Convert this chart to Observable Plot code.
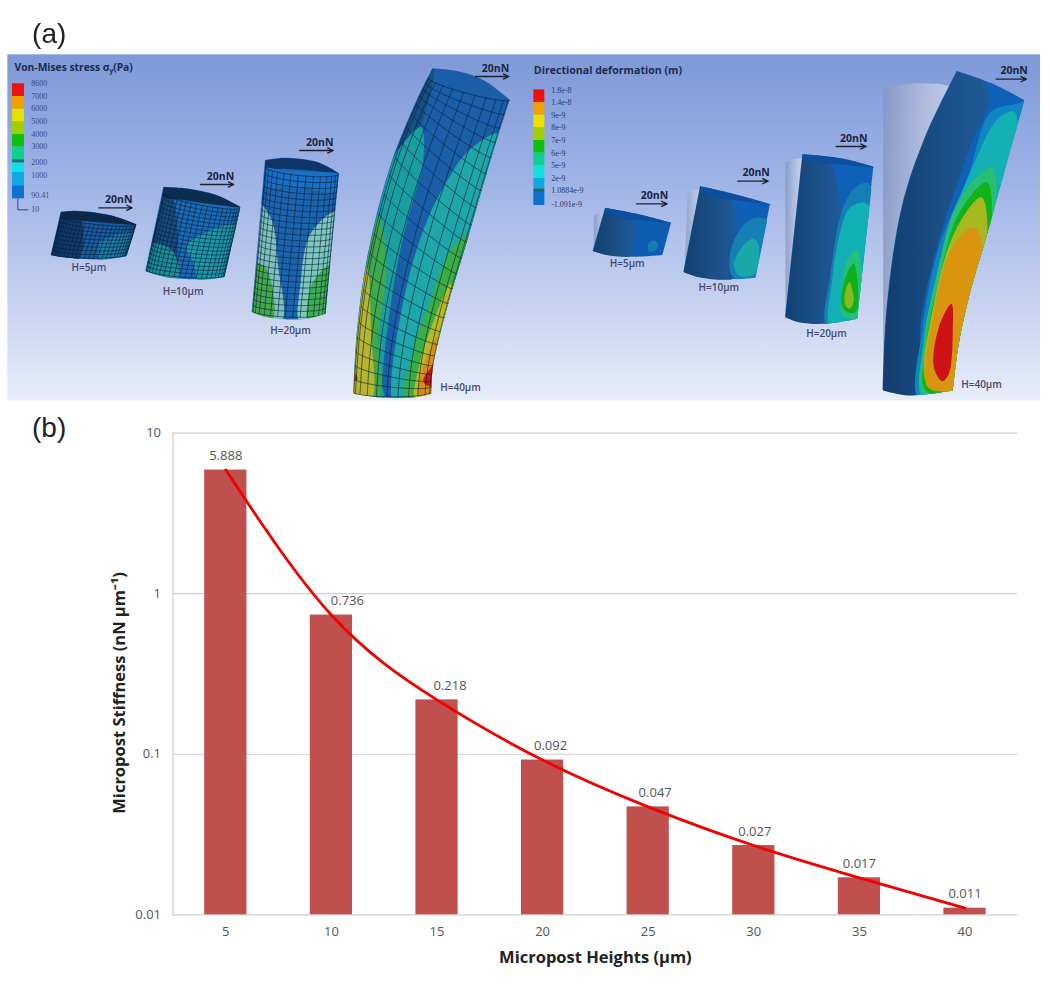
<!DOCTYPE html>
<html><head><meta charset="utf-8">
<script src="https://cdn.jsdelivr.net/npm/d3@7"></script>
<script src="https://cdn.jsdelivr.net/npm/@observablehq/plot@0.6"></script>
<style>
html,body{margin:0;padding:0;background:#fff;width:1050px;height:1001px;overflow:hidden}
svg{display:block}
#top svg{filter:blur(.35px)}
</style></head><body>
<div id="top"></div><div id="bottom"></div>
<script>
// ---- panel (b) values
const heights = [5,10,15,20,25,30,35,40];
const stiffness = [5.888,0.736,0.218,0.092,0.047,0.027,0.017,0.011];
const stiffnessLabels = ["5.888","0.736","0.218","0.092","0.047","0.027","0.017","0.011"];
const yTicks = [0.01,0.1,1,10];
const yTickLabels = ["0.01","0.1","1","10"];

// ---- panel (a) legends
const stressLabels = ["8600","7000","6000","5000","4000","3000","2000","1000","90.41","10"];
const deformationLabels = ["1.8e-8","1.4e-8","9e-9","8e-9","7e-9","6e-9","5e-9","2e-9","1.0884e-9","-1.091e-9"];
const postLabels = ["H=5µm","H=10µm","H=20µm","H=40µm"];

// ---- panel (a) illustration outlines, in picture units (3 per pixel)
const stressOutlines = [
 [[182,635],[230,632],[330,645],[408,672],[378,768],[300,778],[220,774],[152,765]],
 [[490,560],[560,565],[650,585],[720,620],[672,830],[600,838],[500,830],[436,812]],
 [[795,480],[850,473],[950,485],[1015,518],[975,940],[900,958],[800,950],[755,935]],
 [[1297,205],[1380,215],[1450,240],[1528,298],[1470,480],[1400,720],[1340,920],[1297,1100],[1292,1180],[1230,1192],[1130,1190],[1060,1180],[1070,1000],[1100,780],[1170,500],[1250,300]]
];
const stressCorners = [[0,3,4,7],[0,3,4,7],[0,3,4,7],[0,3,8,11]];
const stressBase = ["#1a5c9e","#1b6ab4","#1b65ae","#1a5ea8"];
const stressRegions = [
 [["#123a6a",[[150,620],[240,650],[225,790],[140,775]]],
  ["#1e7ca8",[[300,725],[420,700],[390,790],[300,790]]],
  ["#0c2748",[[170,630],[230,630],[330,643],[420,672],[330,668],[240,660],[180,652]]]],
 [["#174c80",[[480,550],[520,600],[510,840],[420,820]]],
  ["#1d9aa8",[[560,735],[712,675],[690,850],[600,850],[580,790]]],
  ["#1c8f9a",[[445,730],[515,750],[530,850],[420,830]]],
  ["#0d2c52",[[480,550],[560,562],[650,582],[730,620],[640,612],[560,600],[485,585]]]],
 [["#7fc0bd",[[770,605],[812,655],[832,790],[842,965],[745,950]]],
  ["#44a848",[[755,790],[795,800],[815,960],[745,945]]],
  ["#7fc6bd",[[1005,635],[985,950],[900,970],[900,850],[930,700]]],
  ["#3fb050",[[995,790],[985,950],[925,965],[935,850]]],
  ["#0e3566",[[785,480],[850,470],[950,482],[1025,518],[930,510],[850,505],[790,505]]],
  ["#1a70c4",[[790,505],[850,510],[930,515],[1020,525],[1008,575],[900,560],[785,555]]]],
 [["#174f80",[[1300,200],[1262,370],[1210,440],[1150,480],[1240,280]]],
  ["#1b9ea0",[[1262,380],[1268,480],[1215,680],[1180,850],[1145,1150],[1150,1200],[1040,1190],[1060,1000],[1090,780],[1150,520]]],
  ["#3fa84a",[[1135,650],[1158,800],[1135,1000],[1130,1200],[1040,1190],[1060,1000],[1090,780]]],
  ["#b7b52c",[[1100,800],[1112,1000],[1110,1200],[1040,1190],[1060,1000]]],
  ["#1fa6a8",[[1490,400],[1400,455],[1340,540],[1280,660],[1220,850],[1172,1150],[1180,1200],[1310,1190],[1320,1100],[1360,920],[1420,720],[1490,480]]],
  ["#3aae45",[[1410,700],[1350,750],[1290,900],[1235,1060],[1215,1200],[1310,1190],[1320,1100],[1360,920]]],
  ["#b9b825",[[1350,850],[1300,960],[1255,1100],[1245,1200],[1310,1190],[1320,1100]]],
  ["#d88e16",[[1310,1010],[1265,1110],[1255,1200],[1310,1190]]],
  ["#cc1a12",[[1310,1085],[1268,1140],[1280,1155],[1310,1155]]],
  ["#c22a1a",[[1050,1105],[1072,1135],[1050,1145]]]]
];
const deformationOutlines = [
 [[240,503],[330,520],[438,548],[412,645],[330,650],[250,645],[203,632]],
 [[525,438],[620,460],[735,492],[690,712],[600,718],[520,710],[475,695]],
 [[832,342],[950,355],[1045,380],[995,835],[900,850],[820,845],[780,830]],
 [[1295,93],[1400,130],[1497,180],[1440,380],[1385,580],[1330,770],[1298,920],[1282,1050],[1150,1065],[1073,1050],[1085,800],[1130,500],[1200,290]]
];
const deformationCorners = [[0,2,3,6],[0,2,3,6],[0,2,3,6],[0,2,7,9]];
const deformationBase = ["#0f5cb4","#0f5fb6","#0f60b8","#0f60b8"];
const deformationGhosts = [
 [[205,525],[240,512],[250,520],[245,640],[205,630]],
 [[487,460],[500,450],[528,445],[530,700],[477,690]],
 [[780,365],[800,356],[832,352],[830,830],[780,835]],
 [[1073,145],[1100,136],[1170,128],[1240,130],[1290,140],[1200,290],[1130,500],[1090,800],[1073,1050]]
];
const deformationRegions = [
 [["url(#side)",[[240,490],[320,530],[305,660],[190,640]]],
  ["#0d4f9c",[[230,500],[330,518],[448,548],[350,540],[260,527]]],
  ["#167eae",[[368,610],[385,600],[398,612],[388,630],[370,632]]]],
 [["url(#side)",[[515,425],[612,470],[608,730],[460,700]]],
  ["#0d4f9c",[[515,435],[620,458],[745,492],[640,480],[540,462]]],
  ["#1480b4",[[680,535],[725,540],[702,720],[625,712],[612,660],[630,590]]],
  ["#18a8a8",[[682,595],[698,610],[688,700],[640,705],[625,670],[650,620]]]],
 [["url(#side)",[[820,330],[920,378],[900,860],[765,835]]],
  ["#0d4f9c",[[820,340],[950,352],[1055,380],[950,372],[845,360]]],
  ["#147fb5",[[1030,430],[990,440],[950,510],[915,700],[905,860],[1010,850]]],
  ["#10b0b4",[[1025,490],[975,500],[945,570],[920,720],[915,860],[1010,850]]],
  ["#22c07c",[[995,630],[965,660],[945,780],[950,825],[1000,830]]],
  ["#10ae18",[[985,670],[960,710],[948,790],[965,815],[992,812]]],
  ["#8ab820",[[972,725],[958,760],[960,795],[972,805],[985,780]]]],
 [["url(#side)",[[1290,80],[1392,150],[1330,330],[1240,600],[1185,850],[1180,1075],[1050,1060],[1070,800],[1115,500],[1185,290]]],
  ["#1086c0",[[1475,190],[1395,215],[1330,400],[1240,620],[1190,870],[1180,1075],[1300,1060],[1320,900],[1370,760],[1450,450],[1510,180]]],
  ["#15b0b4",[[1468,215],[1420,232],[1350,360],[1260,600],[1205,860],[1190,1070],[1300,1060],[1320,900],[1370,760],[1450,450]]],
  ["#28bf74",[[1400,380],[1300,480],[1230,720],[1195,900],[1195,1060],[1300,1060],[1320,900],[1400,600]]],
  ["#10b418",[[1385,425],[1300,520],[1235,740],[1200,920],[1200,1050],[1300,1058],[1320,900],[1395,600]]],
  ["#a8b820",[[1368,470],[1290,570],[1225,790],[1205,1030],[1295,1048],[1310,900],[1385,600]]],
  ["#d99410",[[1345,560],[1280,620],[1225,820],[1207,1040],[1285,1042],[1300,900],[1370,610]]],
  ["#cc1212",[[1278,790],[1240,860],[1225,980],[1250,1022],[1270,1000],[1282,870]]]]
];
const stressSwatches = [[250,288,"#ee1010"],[288,326,"#f0a000"],[326,364,"#e8e000"],[364,402,"#a0d000"],[402,440,"#10c010"],[440,478,"#10d090"],[478,488,"#107878"],[488,516,"#10e0e0"],[516,556,"#10a8e0"],[556,595,"#1070d0"]];
const deformationSwatches = [[148,186,"#ee1010"],[186,224,"#f0a000"],[224,262,"#e8e000"],[262,300,"#a0d000"],[300,338,"#10c010"],[338,376,"#10d090"],[376,414,"#10e0e0"],[414,445,"#10a8e0"],[445,456,"#107078"],[456,495,"#1070d0"]];

const W = 3150, H = 1230, RX = 1575, RY = 120;   // right half sits at this offset
const shift = pts => pts.map(([x,y]) => [x+RX, y+RY]);
const sans = "'Open Sans', sans-serif";

// a mesh drawn over a post outline: rows across, columns along
function meshLines(L, R, nRows, nCols, sag){
  const bs = e => { const fx=d3.interpolateBasis(e.map(d=>d[0])), fy=d3.interpolateBasis(e.map(d=>d[1])); return t=>[fx(t),fy(t)]; };
  const l=bs(L), r=bs(R);
  const pt = (t,u) => { const a=l(t), b=r(t), c=(1-Math.cos(Math.PI*u))/2; return [a[0]+(b[0]-a[0])*c, a[1]+(b[1]-a[1])*c+sag*Math.sin(Math.PI*u)]; };
  const out=[];
  for(let q=0;q<=nRows;q++) out.push(d3.range(0,21).map(k=>pt(q/nRows,k/20)));
  for(let c=0;c<=nCols;c++) out.push(d3.range(0,nRows+1).map(k=>pt(k/nRows,c/nCols)));
  return out;
}
const meshes = [
 meshLines([[182,650],[152,760]],[[408,672],[378,762]],9,26,12),
 meshLines([[490,580],[436,808]],[[720,622],[672,825]],18,22,14),
 meshLines([[795,500],[755,930]],[[1015,520],[975,938]],24,15,16),
 meshLines([[1285,235],[1250,300],[1170,500],[1100,780],[1070,1000],[1060,1175]],[[1528,298],[1470,480],[1400,720],[1340,920],[1297,1100],[1292,1175]],22,11,14)
];

// a post outline: smooth between corners, sharp at corners
const piece = d3.line().x(d=>d[0]/3).y(d=>d[1]/3).curve(d3.curveCatmullRom);
function outlinePath(pts, corners){
  const n = pts.length; let out = "";
  corners.forEach((c,i)=>{
    const e = corners[(i+1)%corners.length], seg=[];
    for(let k=c;;k=(k+1)%n){ seg.push(pts[k]); if(k===e) break; }
    const d = piece(seg);
    out += i===0 ? d : "L"+d.slice(1);
  });
  return out+"Z";
}
const clipRender = id => (index, scales, values, dims, ctx, next) => {
  const g = next(index, scales, values, dims, ctx);
  g.setAttribute("clip-path", `url(#${id})`);
  return g;
};
const poly = (pts, fill, id) => Plot.line(pts, {x:d=>d[0], y:d=>d[1], fill, stroke:"none", curve:"catmull-rom-closed", render:clipRender(id)});
const base = (fill, id) => Plot.rect([0],{x1:0,x2:W,y1:0,y2:H,fill,render:clipRender(id)});
const defs = () => {
  const s = d3.create("svg:g");
  const d = s.append("defs");
  const g = d.append("linearGradient").attr("id","sky").attr("x1",0).attr("y1",0).attr("x2",0).attr("y2",1);
  [[0,"#7e99d8"],[.35,"#9db2e6"],[.7,"#c4d0ef"],[1,"#e8edf9"]].forEach(([o,c])=>g.append("stop").attr("offset",o).attr("stop-color",c));
  const h = d.append("linearGradient").attr("id","side").attr("x1",0).attr("y1",0).attr("x2",1).attr("y2",0);
  [[0,"#0f3a68"],[.6,"#1b4f86"],[1,"#1d5a99"]].forEach(([o,c])=>h.append("stop").attr("offset",o).attr("stop-color",c));
  const k = d.append("linearGradient").attr("id","ghost").attr("x1",0).attr("y1",0).attr("x2",1).attr("y2",0);
  [[0,"#8494be"],[.5,"#b4bfdc"],[1,"#d8dce8"]].forEach(([o,c])=>k.append("stop").attr("offset",o).attr("stop-color",c));
  stressOutlines.forEach((o,i)=>d.append("clipPath").attr("id","cs"+i).append("path").attr("d",outlinePath(o,stressCorners[i])));
  deformationOutlines.forEach((o,i)=>d.append("clipPath").attr("id","cd"+i).append("path").attr("d",outlinePath(shift(o),deformationCorners[i])));
  return s.node();
};
const arrowsL = [[295,395,622,355,597],[600,700,552,660,528],[898,998,450,958,425],[1425,1525,228,1485,203]];
const arrowsR = [[333,425,490,387,465],[637,728,422,692,396],[932,1022,318,985,294],[1412,1503,116,1466,91]];
const labelsL = [[265,802],[548,873],[870,990],[1380,1162]];
const labelsR = [[305,671],[580,743],[903,880],[1368,1032]];
const stressY = [250,287,325,363,402,439,486,525,586,627];
const deformY = [149,186,224,262,301,338,376,414,450,492];

const topPlot = Plot.plot({
  width:1050, height:410, margin:0,
  x:{domain:[0,W], range:[0,1050], axis:null},
  y:{domain:[0,H], range:[0,410], axis:null},
  marks:[
    defs,
    Plot.rect([0],{x1:22,x2:3120,y1:163,y2:1202,fill:"url(#sky)"}),
    ...stressBase.map((f,i)=>base(f,"cs"+i)),
    ...stressRegions.flatMap((rs,i)=>rs.map(([f,p])=>poly(p,f,"cs"+i))),
    ...meshes.flatMap((ms,i)=>ms.map(m=>Plot.line(m,{x:d=>d[0],y:d=>d[1],stroke:"#07203c",strokeWidth:.8,strokeOpacity:.75,curve:"catmull-rom",render:clipRender("cs"+i)}))),
    ...deformationGhosts.map(p=>Plot.line(shift(p),{x:d=>d[0],y:d=>d[1],fill:"url(#ghost)",fillOpacity:.75,stroke:"none",curve:"linear-closed"})),
    ...deformationBase.map((f,i)=>base(f,"cd"+i)),
    ...deformationRegions.flatMap((rs,i)=>rs.map(([f,p])=>poly(shift(p),f,"cd"+i))),
    Plot.rect(stressSwatches,{x1:36,x2:72,y1:d=>d[0],y2:d=>d[1],fill:d=>d[2]}),
    Plot.rect(deformationSwatches,{x1:25+RX,x2:58+RX,y1:d=>d[0]+RY,y2:d=>d[1]+RY,fill:d=>d[2]}),
    Plot.line([[52,595],[52,628],[82,628]],{x:d=>d[0],y:d=>d[1],stroke:"#3a4a70",strokeWidth:1}),
    Plot.text(stressLabels,{x:92,y:(d,i)=>stressY[i],text:d=>d,textAnchor:"start",fontSize:8,fontFamily:"'Liberation Serif',serif",fill:"#3d4a6e",fontWeight:d=>d==="90.41"?"bold":"normal"}),
    Plot.text(deformationLabels,{x:77+RX,y:(d,i)=>deformY[i]+RY,text:d=>d,textAnchor:"start",fontSize:8,fontFamily:"'Liberation Serif',serif",fill:"#2e3a5e",fontWeight:d=>d.length>7?"bold":"normal"}),
    Plot.text(["Von-Mises stress σ"],{x:42,y:203,text:d=>d,textAnchor:"start",fontSize:10.3,fontWeight:"bold",fontFamily:sans,fill:"#1c2c50"}),
    Plot.text(["y"],{x:327,y:212,text:d=>d,textAnchor:"start",fontSize:6.5,fontWeight:"bold",fontFamily:sans,fill:"#1c2c50"}),
    Plot.text(["(Pa)"],{x:338,y:203,text:d=>d,textAnchor:"start",fontSize:10.3,fontWeight:"bold",fontFamily:sans,fill:"#1c2c50"}),
    Plot.text(["Directional deformation (m)"],{x:25+RX,y:90+RY,text:d=>d,textAnchor:"start",fontSize:10.6,fontWeight:"bold",fontFamily:sans,fill:"#1c2c50"}),
    Plot.arrow(arrowsL,{x1:d=>d[0],x2:d=>d[1],y1:d=>d[2],y2:d=>d[2],stroke:"#1c2230",strokeWidth:1.3,headLength:7,headAngle:50}),
    Plot.arrow(arrowsR,{x1:d=>d[0]+RX,x2:d=>d[1]+RX,y1:d=>d[2]+RY,y2:d=>d[2]+RY,stroke:"#1c2230",strokeWidth:1.3,headLength:7,headAngle:50}),
    Plot.text(arrowsL,{x:d=>d[3],y:d=>d[4],text:()=>"20nN",fontSize:10.5,fontWeight:"bold",fontFamily:sans,fill:"#1c2440"}),
    Plot.text(arrowsR,{x:d=>d[3]+RX,y:d=>d[4]+RY,text:()=>"20nN",fontSize:10.5,fontWeight:"bold",fontFamily:sans,fill:"#1c2440"}),
    Plot.text(postLabels,{x:(d,i)=>labelsL[i][0],y:(d,i)=>labelsL[i][1],text:d=>d,fontSize:10,fontWeight:600,fontFamily:sans,fill:"#454a70"}),
    Plot.text(postLabels,{x:(d,i)=>labelsR[i][0]+RX,y:(d,i)=>labelsR[i][1]+RY,text:d=>d,fontSize:10,fontWeight:600,fontFamily:sans,fill:"#454a70"}),
    Plot.text(["(a)"],{x:146,y:102,text:d=>d,fontSize:28,fontFamily:"'Liberation Sans',sans-serif",fill:"#222"})
  ]
});
document.getElementById("top").append(topPlot);

// ---- panel (b)
const rowsB = heights.map((h,i)=>({h:h, v:stiffness[i], label:stiffnessLabels[i]}));
const labelShift = {5:0,10:16,15:13,20:8,25:7,30:1,35:0,40:0};
const bottomPlot = Plot.plot({
  width:1050, height:591,
  marginTop:22.6, marginBottom:86.7, marginLeft:172.5, marginRight:32.7,
  style:{fontFamily:sans, background:"transparent"},
  x:{type:"band", domain:heights, paddingInner:0.6, paddingOuter:0.3, round:false, label:null},
  y:{type:"log", domain:[0.01,10], label:null},
  marks:[
    Plot.ruleY(yTicks,{stroke:"#cfcfcf",strokeWidth:1.2}),
    Plot.frame({anchor:"left",stroke:"#cfcfcf",strokeWidth:1.2}),
    Plot.axisY({ticks:yTicks,tickFormat:(d)=>yTickLabels[yTicks.indexOf(d)],tickSize:0,tickPadding:12,fontSize:13,color:"#555",label:null}),
    Plot.axisX({tickSize:0,tickPadding:12,fontSize:13,color:"#555",label:null}),
    Plot.barY(rowsB,{x:"h",y1:()=>0.01,y2:"v",fill:"#c0504d"}),
    Plot.line(rowsB,{x:"h",y:"v",stroke:"#f00000",strokeWidth:2.8,curve:"natural"}),
    ...rowsB.map(r=>Plot.text([r],{x:"h",y:"v",text:"label",dx:labelShift[r.h],dy:-14,fontSize:13,fill:"#555"})),
    Plot.text(["Micropost Heights (µm)"],{frameAnchor:"bottom",dy:48,text:d=>d,fontSize:16.5,fontWeight:"bold",fill:"#222"}),
    Plot.text(["Micropost Stiffness (nN µm⁻¹)"],{frameAnchor:"left",dx:-53,dy:19,textAnchor:"middle",text:d=>d,rotate:-90,fontSize:16.5,fontWeight:"bold",fill:"#222"}),
    Plot.text(["(b)"],{frameAnchor:"top-left",dx:-141,dy:-16,text:d=>d,fontSize:28,fontFamily:"'Liberation Sans',sans-serif",fill:"#222"})
  ]
});
document.getElementById("bottom").append(bottomPlot);
</script></body></html>
